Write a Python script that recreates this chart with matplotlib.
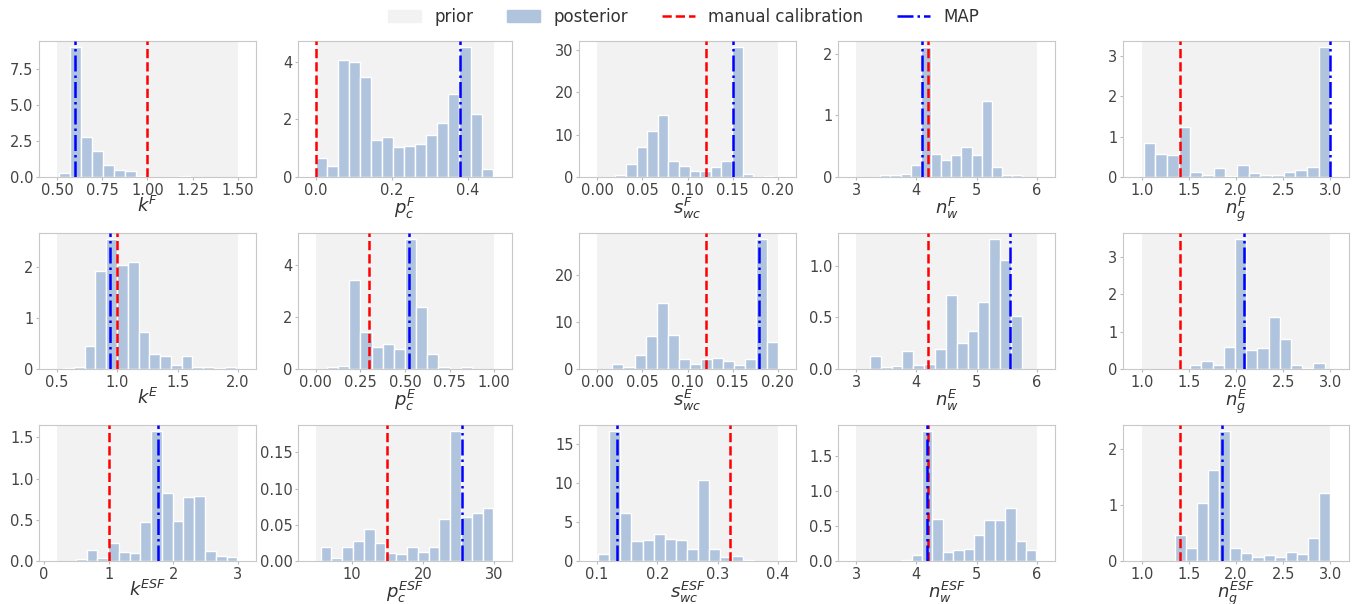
import numpy as np
import matplotlib
matplotlib.use('Agg')
import matplotlib.pyplot as plt
from matplotlib.patches import Patch
from matplotlib.lines import Line2D

# parameter names (x labels), row by row
labels = [r'$k^{F}$', r'$p_c^{F}$', r'$s_{wc}^{F}$', r'$n_w^{F}$', r'$n_g^{F}$',
          r'$k^{E}$', r'$p_c^{E}$', r'$s_{wc}^{E}$', r'$n_w^{E}$', r'$n_g^{E}$',
          r'$k^{ESF}$', r'$p_c^{ESF}$', r'$s_{wc}^{ESF}$', r'$n_w^{ESF}$', r'$n_g^{ESF}$']

# prior ranges
prior_lo = [0.5, 0.0, 0.0, 3.0, 1.0,
            0.5, 0.0, 0.0, 3.0, 1.0,
            0.2, 5.0, 0.1, 3.0, 1.0]
prior_hi = [1.5, 0.47, 0.2, 6.0, 3.0,
            2.0, 1.0, 0.2, 6.0, 3.0,
            3.0, 30.0, 0.4, 6.0, 3.0]

# posterior histogram range and bin heights (density)
hist_lo = [0.51, 0.0, 0.0085, 3.4, 1.02,
           0.55, 0.0, 0.017, 3.23, 1.513,
           0.49, 5.66, 0.1017, 3.75, 1.35]
hist_hi = [1.237, 0.466, 0.196, 5.76, 3.0,
           1.98, 0.875, 0.2, 5.75, 2.94,
           2.99, 29.9, 0.36, 5.99, 3.0]
dens_kF = [0.28, 8.98, 2.78, 1.78, 0.86, 0.51, 0.39, 0.07, 0, 0, 0, 0.09]
dens_pcF = [0.66, 0.37, 4.08, 4.01, 3.46, 1.28, 1.39, 1.04, 1.07, 1.16, 1.47, 1.86, 2.88, 4.5, 2.2, 0.29]
dens_swcF = [0.1, 0.5, 3.15, 7.1, 10.75, 14.5, 3.7, 2.5, 1.3, 1.5, 2.3, 3.85, 30.5, 0.7, 0.0, 0.3]
dens_nwF = [0.04, 0.04, 0.05, 0.19, 2.1, 0.38, 0.28, 0.36, 0.49, 0.36, 1.23, 0.16, 0.03, 0.04]
dens_ngF = [0.83, 0.58, 0.54, 1.24, 0.12, 0.04, 0.23, 0.03, 0.3, 0.11, 0.06, 0.04, 0.13, 0.18, 0.25, 3.2]
dens_kE = [0.02, 0.03, 0.46, 1.93, 2.54, 2.03, 2.1, 0.73, 0.3, 0.26, 0.07, 0.26, 0.03, 0.03, 0.02, 0.03]
dens_pcE = [0.01, 0.08, 0.1, 3.42, 1.42, 0.85, 0.98, 0.76, 5.0, 2.38, 0.57, 0.08, 0.0, 0.06]
dens_swcE = [1.0, 0.4, 3.0, 7.07, 14.0, 7.3, 2.07, 1.0, 2.14, 2.43, 1.79, 0.93, 2.2, 27.6, 5.7]
dens_nwE = [0.127, 0.02, 0.03, 0.175, 0.04, 0.05, 0.19, 0.714, 0.256, 0.37, 0.65, 1.257, 1.055, 0.516]
dens_ngE = [0.1, 0.21, 0.11, 0.58, 3.455, 0.5, 0.57, 1.38, 0.79, 0.1, 0.02, 0.17]
dens_kESF = [0.02, 0.139, 0.04, 0.22, 0.11, 0.1, 0.473, 1.573, 0.82, 0.48, 0.78, 0.79, 0.126, 0.06, 0.05]
dens_pcESF = [0.0195, 0.004, 0.02, 0.028, 0.044, 0.0246, 0.011, 0.009, 0.019, 0.013, 0.019, 0.0576, 0.179, 0.061, 0.066, 0.073]
dens_swcESF = [0.94, 16.54, 6.13, 2.6, 2.74, 3.39, 2.83, 2.66, 1.59, 10.3, 1.59, 0.56, 0.69, 0.08]
dens_nwESF = [0.02, 0.08, 1.85, 0.6, 0.124, 0.15, 0.167, 0.37, 0.58, 0.59, 0.75, 0.287, 0.158]
dens_ngESF = [0.455, 0.24, 1.036, 1.63, 2.31, 0.23, 0.15, 0.08, 0.11, 0.08, 0.16, 0.13, 0.41, 1.21]
densities = [dens_kF, dens_pcF, dens_swcF, dens_nwF, dens_ngF,
             dens_kE, dens_pcE, dens_swcE, dens_nwE, dens_ngE,
             dens_kESF, dens_pcESF, dens_swcESF, dens_nwESF, dens_ngESF]

manual = [1.0, 0.0, 0.12, 4.2, 1.4,
          1.0, 0.3, 0.12, 4.2, 1.4,
          1.0, 15.0, 0.32, 4.2, 1.4]
map_est = [0.6, 0.38, 0.15, 4.09, 3.0,
           0.94, 0.524, 0.179, 5.556, 2.086,
           1.765, 25.55, 0.133, 4.17, 1.85]

xticks = [[0.5, 0.75, 1.0, 1.25, 1.5], [0.0, 0.2, 0.4], [0.0, 0.05, 0.1, 0.15, 0.2], [3, 4, 5, 6], [1.0, 1.5, 2.0, 2.5, 3.0],
          [0.5, 1.0, 1.5, 2.0], [0.0, 0.25, 0.5, 0.75, 1.0], [0.0, 0.05, 0.1, 0.15, 0.2], [3, 4, 5, 6], [1.0, 1.5, 2.0, 2.5, 3.0],
          [0, 1, 2, 3], [10, 20, 30], [0.1, 0.2, 0.3, 0.4], [3, 4, 5, 6], [1.0, 1.5, 2.0, 2.5, 3.0]]
yticks = [[0.0, 2.5, 5.0, 7.5], [0, 2, 4], [0, 10, 20, 30], [0, 1, 2], [0, 1, 2, 3],
          [0, 1, 2], [0, 2, 4], [0, 10, 20], [0.0, 0.5, 1.0], [0, 1, 2, 3],
          [0.0, 0.5, 1.0, 1.5], [0.0, 0.05, 0.10, 0.15], [0, 5, 10, 15], [0.0, 0.5, 1.0, 1.5], [0, 1, 2]]

prior_col = '#f2f2f2'
post_col = '#b0c4de'

W, H = 1354, 604
col_l = [39, 298, 579, 838, 1123]
col_r = [256, 512, 796, 1055, 1349]
row_t = [41, 233, 425]
row_b = [177, 369, 561]

fig = plt.figure(figsize=(W / 100, H / 100), dpi=100)

for i in range(15):
    r, c = divmod(i, 5)
    ax = fig.add_axes([col_l[c] / W, 1 - row_b[r] / H,
                       (col_r[c] - col_l[c]) / W, (row_b[r] - row_t[r]) / H])
    lo, hi = prior_lo[i], prior_hi[i]
    ax.axvspan(lo, hi, color=prior_col, lw=0, zorder=0)
    h = np.array(densities[i])
    edges = np.linspace(hist_lo[i], hist_hi[i], len(h) + 1)
    mids = (edges[:-1] + edges[1:]) / 2
    ax.hist(mids, bins=edges, weights=h, color=post_col, edgecolor='white', linewidth=1, zorder=1)
    ax.axvline(manual[i], color='red', ls='--', lw=1.8, zorder=3)
    ax.axvline(map_est[i], color='blue', ls='-.', lw=1.8, zorder=3)
    rng = hi - lo
    ax.set_xlim(lo - 0.1 * rng, hi + 0.1 * rng)
    ax.set_xticks(xticks[i])
    ax.set_yticks(yticks[i])
    ax.set_xlabel(labels[i], fontsize=13, color='#333333', labelpad=-1)
    ax.tick_params(labelsize=10.5, colors='#444444', length=2, width=0.8, pad=2)
    ax.tick_params(color='#bbbbbb')
    for s in ax.spines.values():
        s.set_color('#c8c8c8')

handles = [Patch(color=prior_col), Patch(color=post_col),
           Line2D([], [], color='red', ls='--', lw=1.8),
           Line2D([], [], color='blue', ls='-.', lw=1.8)]
fig.legend(handles, ['prior', 'posterior', 'manual calibration', 'MAP'],
           loc='upper center', bbox_to_anchor=(0.505, 1.012), ncol=4, frameon=False,
           fontsize=12, labelcolor='#333333')

fig.savefig('out.png', dpi=100)
